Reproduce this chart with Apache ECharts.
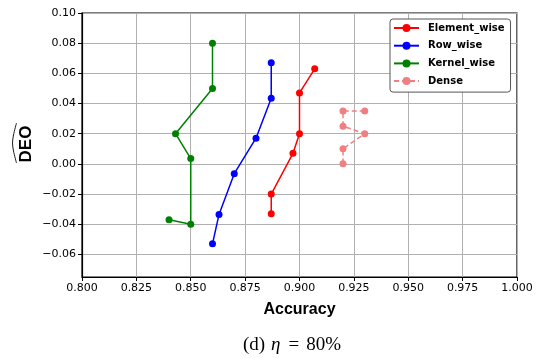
<!DOCTYPE html>
<html>
<head>
<meta charset="utf-8">
<script src="https://cdn.jsdelivr.net/npm/echarts@6/dist/echarts.min.js"></script>
<style>html,body{margin:0;padding:0;background:#fff;}#c{width:541px;height:358px;}</style>
</head>
<body>
<div id="c"></div>
<script>
const seriesNames = ['Element_wise', 'Row_wise', 'Kernel_wise', 'Dense'];
const elementX = [0.907, 0.900, 0.900, 0.897, 0.887, 0.887];
const elementY = [0.063, 0.047, 0.020, 0.007, -0.020, -0.033];
const rowX = [0.887, 0.887, 0.880, 0.870, 0.863, 0.860];
const rowY = [0.067, 0.0435, 0.017, -0.0065, -0.0335, -0.053];
const kernelX = [0.860, 0.860, 0.843, 0.850, 0.850, 0.840];
const kernelY = [0.080, 0.050, 0.020, 0.0035, -0.040, -0.037];
const denseX = [0.930, 0.920, 0.920, 0.930, 0.920, 0.920];
const denseY = [0.035, 0.035, 0.025, 0.020, 0.010, 0.000];
const xTicks = [0.800, 0.825, 0.850, 0.875, 0.900, 0.925, 0.950, 0.975, 1.000];
const yTicks = [-0.06, -0.04, -0.02, 0.00, 0.02, 0.04, 0.06, 0.08, 0.10];
const colors = ['#ff0000', '#0000ff', '#008000', '#f08080'];

const zip = (xs, ys) => xs.map((x, i) => [x, ys[i]]);
const dataSets = [zip(elementX, elementY), zip(rowX, rowY), zip(kernelX, kernelY), zip(denseX, denseY)];

const chart = echarts.init(document.getElementById('c'), null, {renderer: 'canvas'});
const tickFont = {fontFamily: 'DejaVu Sans', fontSize: 11, color: '#000'};
chart.setOption({
  animation: false,
  grid: {left: 82, right: 24, top: 13, bottom: 81, show: true, borderColor: '#000', borderWidth: 1.2, backgroundColor: 'transparent'},
  xAxis: {
    type: 'value', min: 0.8, max: 1.0, interval: 0.025,
    name: 'Accuracy', nameLocation: 'middle', nameGap: 25,
    nameTextStyle: {fontFamily: 'Liberation Sans', fontWeight: 'bold', fontSize: 16, color: '#000'},
    axisLine: {onZero: false, lineStyle: {color: '#000', width: 1.2}},
    axisTick: {show: true, inside: false, length: 4, lineStyle: {color: '#000'}},
    axisLabel: Object.assign({margin: 6, formatter: v => v.toFixed(3)}, tickFont),
    splitLine: {show: true, lineStyle: {color: '#b0b0b0', width: 1}}
  },
  yAxis: {
    type: 'value', min: -0.075, max: 0.1,
    axisLine: {show: true, onZero: false, lineStyle: {color: '#000', width: 1.2}},
    axisTick: {show: true, inside: false, length: 4, lineStyle: {color: '#000'}, customValues: yTicks},
    axisLabel: Object.assign({margin: 6, customValues: yTicks, formatter: v => (v < 0 ? '\u2212' : '') + Math.abs(v).toFixed(2)}, tickFont),
    splitLine: {show: true, lineStyle: {color: '#b0b0b0', width: 1}}
  },
  legend: {
    left: 390, top: 19, orient: 'vertical',
    itemWidth: 25, itemHeight: 10, itemGap: 7.7,
    padding: [4, 6, 6, 3],
    borderColor: '#555', borderWidth: 1, borderRadius: 3,
    backgroundColor: '#fff',
    textStyle: {fontFamily: 'DejaVu Sans', fontWeight: 'bold', fontSize: 10, color: '#000', padding: [0, 0, 0, 4]},
    data: seriesNames
  },
  series: seriesNames.map((n, i) => ({
    name: n, type: 'line', data: dataSets[i],
    symbol: 'circle', symbolSize: 7,
    itemStyle: {color: colors[i]},
    lineStyle: {color: colors[i], width: 1.5, type: i === 3 ? [5, 3] : 'solid'},
    z: 3
  })),
  graphic: [
    {type: 'text', x: 26.5, y: 144, rotation: Math.PI / 2,
     style: {text: 'DEO', fontFamily: 'Liberation Sans', fontWeight: 'bold', fontSize: 17, fill: '#000', align: 'center', verticalAlign: 'middle'}},
    {type: 'polyline', shape: {points: [[16.5, 123], [13.5, 135], [12.5, 143], [13.5, 151], [16.5, 163]], smooth: 0.3},
     style: {stroke: '#000', lineWidth: 0.9, fill: null}},
    {type: 'text', x: 292, y: 345,
     style: {rich: {
         a: {fontFamily: 'Liberation Serif', fontSize: 19, fill: '#000'},
         b: {fontFamily: 'Liberation Serif', fontStyle: 'italic', fontSize: 19, fill: '#000', padding: [0, 8, 0, 6]},
         c: {fontFamily: 'Liberation Serif', fontSize: 19, fill: '#000', padding: [0, 7, 0, 0]}
       },
       text: '{a|(d)}{b|η}{c|=}{a|80%}', align: 'center', verticalAlign: 'middle'}}
  ]
});
</script>
</body>
</html>
